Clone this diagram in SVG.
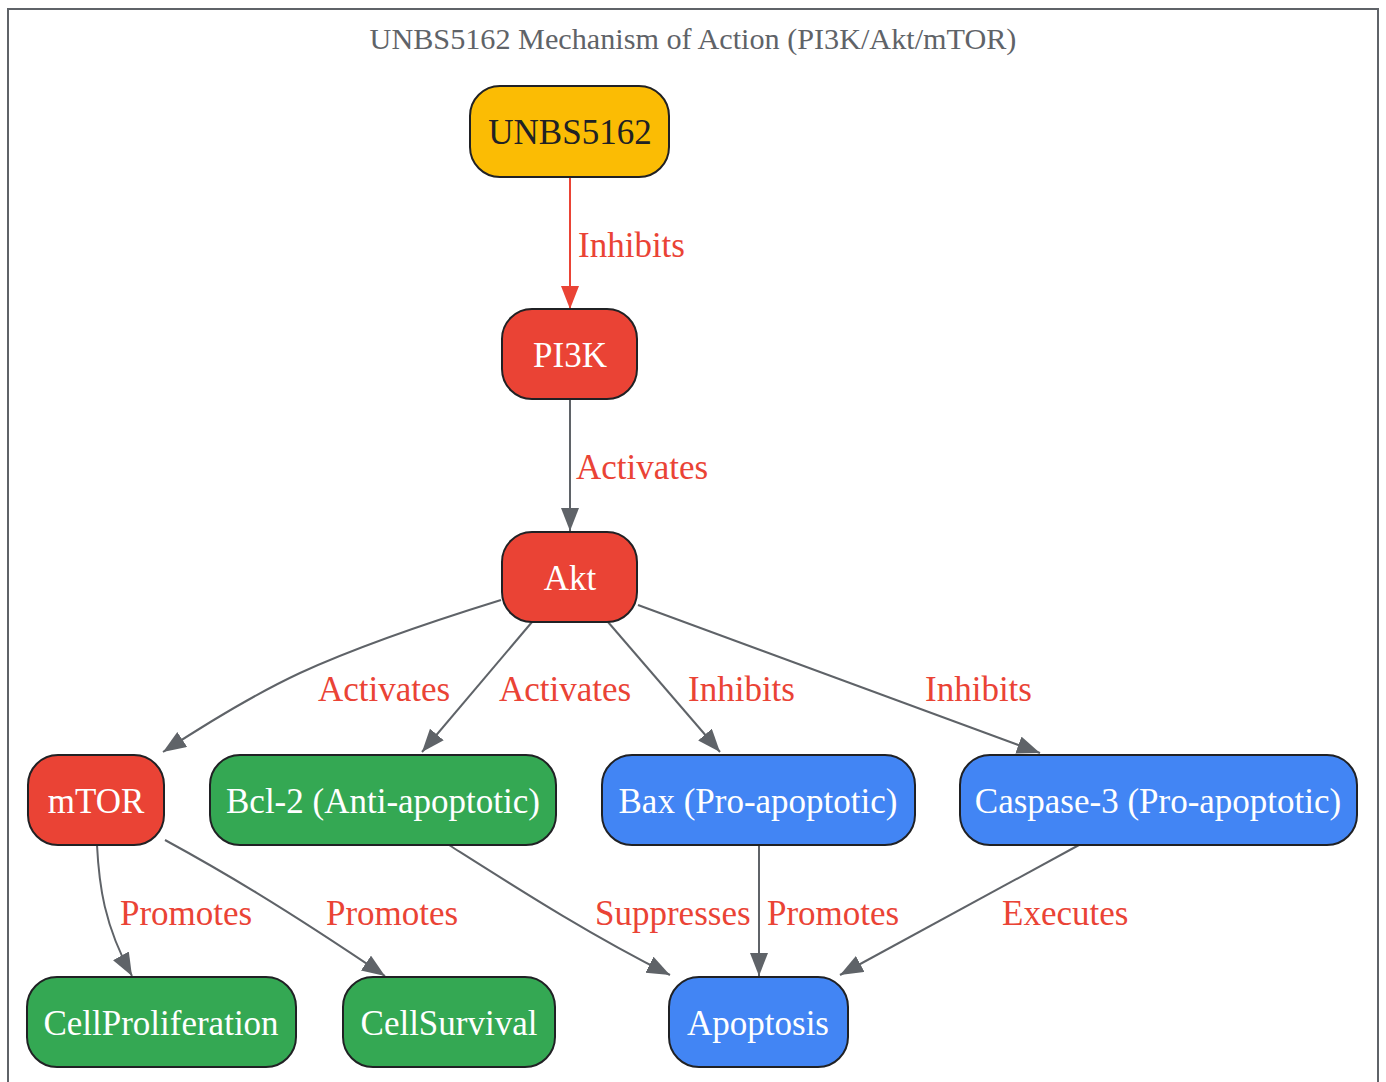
<svg xmlns="http://www.w3.org/2000/svg" width="1386" height="1082" viewBox="0 0 1386 1082">
<style>
  .node rect { stroke: #202124; stroke-width: 2; }
  .node text { font-family: "Liberation Serif", "Times New Roman", serif; font-size: 35px; text-anchor: middle; fill: #ffffff; }
  .red rect { fill: #ea4335; }
  .green rect { fill: #34a853; }
  .blue rect { fill: #4285f4; }
  .yellow rect { fill: #fbbc04; }
  .yellow text { fill: #202124; }
  .edge { fill: none; stroke: #5f6368; stroke-width: 2; marker-end: url(#ah); }
  .edge.inh { stroke: #ea4335; marker-end: url(#ahr); }
  .lbl { font-family: "Liberation Serif", "Times New Roman", serif; font-size: 35px; fill: #ea4335; }
  .title { font-family: "Liberation Serif", "Times New Roman", serif; font-size: 30.2px; fill: #5f6368; text-anchor: middle; }
</style>
<defs>
  <marker id="ah" markerUnits="userSpaceOnUse" markerWidth="26" markerHeight="20" refX="23" refY="9" orient="auto">
    <path d="M0,0 L23,9 L0,18 z" fill="#5f6368"/>
  </marker>
  <marker id="ahr" markerUnits="userSpaceOnUse" markerWidth="26" markerHeight="20" refX="23" refY="9" orient="auto">
    <path d="M0,0 L23,9 L0,18 z" fill="#ea4335"/>
  </marker>
</defs>
<rect x="0" y="0" width="1386" height="1082" fill="#ffffff"/>
<rect x="8" y="9" width="1370" height="1090" fill="none" stroke="#5f6368" stroke-width="2"/>
<text class="title" x="693" y="49">UNBS5162 Mechanism of Action (PI3K/Akt/mTOR)</text>

<g id="connectors">
  <path class="edge inh" d="M570,177 L570,309"/>
  <path class="edge" d="M570,399 L570,531"/>
  <path class="edge" d="M501,600 C430,622 350,650 300,673 C255,694 215,718 163,752"/>
  <path class="edge" d="M532,622 L422,752"/>
  <path class="edge" d="M608,622 L720,752"/>
  <path class="edge" d="M638,605 L1040,753"/>
  <path class="edge" d="M97,845 C99,885 104,925 132,976"/>
  <path class="edge" d="M165,840 C220,870 280,905 385,976"/>
  <path class="edge" d="M449,845 C520,890 590,935 670,975"/>
  <path class="edge" d="M759,845 L759,976"/>
  <path class="edge" d="M1079,845 L840,975"/>
  <text class="lbl" x="578" y="257">Inhibits</text>
  <text class="lbl" x="576" y="479">Activates</text>
  <text class="lbl" x="318" y="701">Activates</text>
  <text class="lbl" x="499" y="701">Activates</text>
  <text class="lbl" x="688" y="701">Inhibits</text>
  <text class="lbl" x="925" y="701">Inhibits</text>
  <text class="lbl" x="120" y="925">Promotes</text>
  <text class="lbl" x="326" y="925">Promotes</text>
  <text class="lbl" x="595" y="925">Suppresses</text>
  <text class="lbl" x="767" y="925">Promotes</text>
  <text class="lbl" x="1002" y="925">Executes</text>
</g>

<g id="UNBS5162" class="node yellow"><rect x="470" y="86" width="199" height="91" rx="30"/><text x="570" y="144">UNBS5162</text></g>
<g id="PI3K" class="node red"><rect x="502" y="309" width="135" height="90" rx="30"/><text x="570" y="367">PI3K</text></g>
<g id="Akt" class="node red"><rect x="502" y="532" width="135" height="90" rx="30"/><text x="570" y="590">Akt</text></g>
<g id="mTOR" class="node red"><rect x="28" y="755" width="136" height="90" rx="30"/><text x="96" y="813">mTOR</text></g>
<g id="Bcl2" class="node green"><rect x="210" y="755" width="346" height="90" rx="30"/><text x="383" y="813">Bcl-2 (Anti-apoptotic)</text></g>
<g id="Bax" class="node blue"><rect x="602" y="755" width="313" height="90" rx="30"/><text x="758" y="813">Bax (Pro-apoptotic)</text></g>
<g id="Caspase3" class="node blue"><rect x="960" y="755" width="397" height="90" rx="30"/><text x="1158" y="813">Caspase-3 (Pro-apoptotic)</text></g>
<g id="CellProliferation" class="node green"><rect x="27" y="977" width="269" height="90" rx="30"/><text x="161" y="1035">CellProliferation</text></g>
<g id="CellSurvival" class="node green"><rect x="343" y="977" width="212" height="90" rx="30"/><text x="449" y="1035">CellSurvival</text></g>
<g id="Apoptosis" class="node blue"><rect x="669" y="977" width="179" height="90" rx="30"/><text x="758" y="1035">Apoptosis</text></g>
</svg>
